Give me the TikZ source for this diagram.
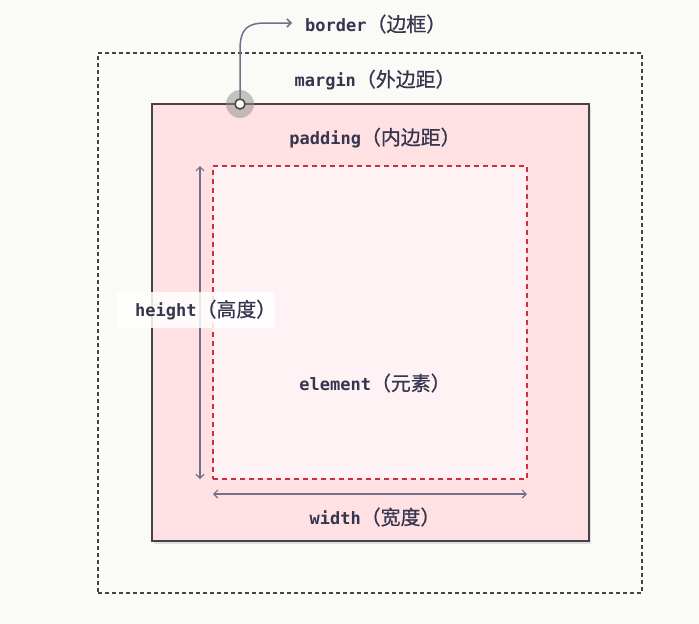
\documentclass[tikz,border=0pt]{standalone}
\usepackage{fontspec}
\setmonofont{DejaVu Sans Mono}
\newfontfamily\cjk[FakeBold=0.6,Scale=1.17]{Noto Sans CJK SC}
\usetikzlibrary{arrows.meta}
\definecolor{bg}{HTML}{FAFAF7}
\definecolor{pinkfill}{HTML}{FFE1E3}
\definecolor{elemfill}{HTML}{FFF2F4}
\definecolor{redd}{HTML}{CF2F3A}
\definecolor{bordc}{HTML}{444448}
\definecolor{txt}{HTML}{35354E}
\definecolor{arrc}{HTML}{70708A}
\newcommand{\lab}[2]{{\ttfamily\bfseries #1}{\cjk #2}}
\tikzset{
  lbl/.style={text=txt, font=\fontsize{17}{20}\selectfont, inner sep=0pt},
  boxnode/.style={rectangle, inner sep=0pt, outer sep=0pt},
  dimarrow/.style={draw=arrc, line width=1.2pt, {Straight Barb[length=4pt,width=8pt]}-{Straight Barb[length=4pt,width=8pt]}}
}
\begin{document}
\begin{tikzpicture}[x=1pt,y=-1pt]
\useasboundingbox[fill=bg] (0,0) rectangle (699,624);
% margin box
\node[boxnode, draw=bordc, line width=1.5pt, dash pattern=on 4pt off 3pt,
  minimum width=544pt, minimum height=540pt] (margin) at (370,323) {};
% border box shadow
\fill[black!12] (154,107) rectangle (591,544);
\node[boxnode, draw=bordc, fill=pinkfill, line width=2pt,
  minimum width=437pt, minimum height=437pt] (border) at (370.5,322.5) {};
% element box
\node[boxnode, draw=redd, fill=elemfill, line width=2pt, dash pattern=on 5pt off 4pt,
  minimum width=314pt, minimum height=313pt] (elem) at (370,322.5) {};
% dimension arrows
\draw[dimarrow] ([xshift=-13pt]elem.north west) -- ([xshift=-13pt]elem.south west);
\draw[dimarrow] ([yshift=-15pt]elem.south west) -- ([yshift=-15pt]elem.south east);
% labels
\node[lbl] (marginlab) at (375,80) {\lab{margin}{（外边距）}};
\node[lbl] (paddinglab) at (375,138) {\lab{padding}{（内边距）}};
\node[lbl] (elemlab) at (375,383) {\lab{element}{（元素）}};
\node[lbl] (widthlab) at (375,517) {\lab{width}{（宽度）}};
\node[boxnode, fill=white, fill opacity=0.85, minimum width=158pt, minimum height=36pt]
  (heightbox) at (196,310) {};
\node[lbl, anchor=west] (heightlab) at (135,310) {\lab{height}{（高度）}};
\node[lbl, anchor=west] (borderlab) at (305,24) {\lab{border}{（边框）}};
% border marker
\fill[black!45, opacity=0.5] (240,104) circle (14pt);
\node[circle, draw=bordc, fill=white, line width=1.5pt, minimum size=10pt, inner sep=0pt] (dot) at (240,104) {};
\coordinate (tip) at (292,23);
\draw[draw=arrc, line width=1.5pt, -{Straight Barb[length=4pt,width=8pt]}]
  (dot.north) -- (240,50) .. controls (240,28) and (248,23) .. (266,23) -- (tip);
\end{tikzpicture}
\end{document}
